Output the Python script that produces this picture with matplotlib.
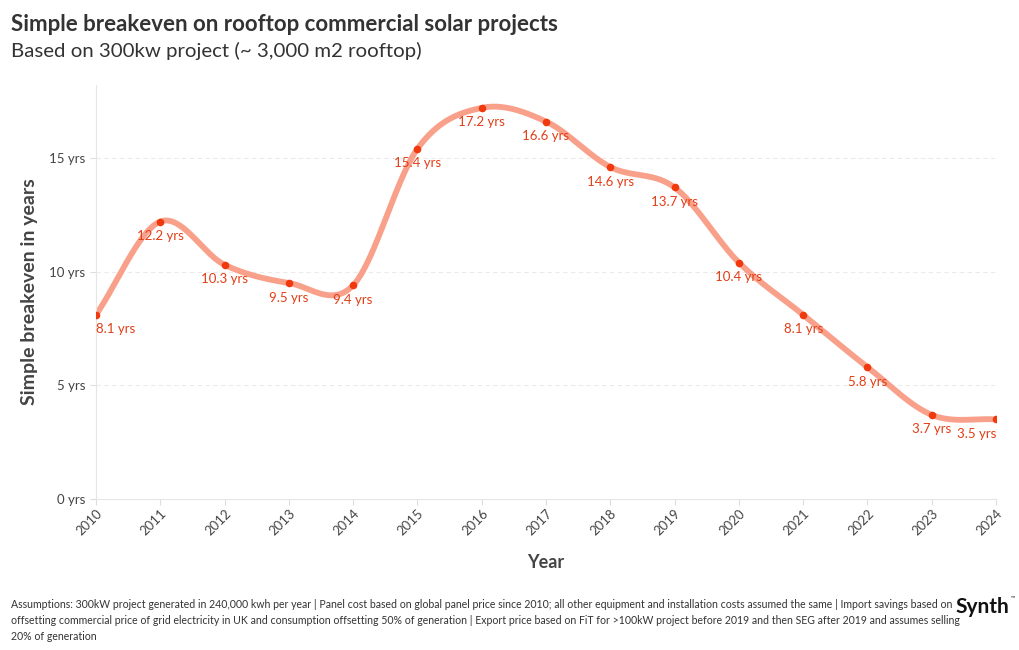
import matplotlib
matplotlib.use("Agg")
import matplotlib.pyplot as plt
import numpy as np

years = [2010, 2011, 2012, 2013, 2014, 2015, 2016, 2017, 2018, 2019, 2020, 2021, 2022, 2023, 2024]
breakeven = [8.1, 12.2, 10.3, 9.5, 9.4, 15.4, 17.2, 16.6, 14.6, 13.7, 10.4, 8.1, 5.8, 3.7, 3.5]
y_ticks = [0, 5, 10, 15]
y_tick_labels = ["0 yrs", "5 yrs", "10 yrs", "15 yrs"]

plt.rcParams['font.family'] = ['Lato', 'DejaVu Sans']

def catmull_rom(x, y, n=40):
    x = np.asarray(x, float); y = np.asarray(y, float)
    px = np.concatenate([[2*x[0]-x[1]], x, [2*x[-1]-x[-2]]])
    py = np.concatenate([[2*y[0]-y[1]], y, [2*y[-1]-y[-2]]])
    xs, ys = [], []
    t = np.linspace(0, 1, n, endpoint=False)
    for i in range(1, len(px)-2):
        p0, p1, p2, p3 = py[i-1], py[i], py[i+1], py[i+2]
        a = 0.5*((2*p1) + (-p0+p2)*t + (2*p0-5*p1+4*p2-p3)*t**2 + (-p0+3*p1-3*p2+p3)*t**3)
        q0, q1, q2, q3 = px[i-1], px[i], px[i+1], px[i+2]
        b = 0.5*((2*q1) + (-q0+q2)*t + (2*q0-5*q1+4*q2-q3)*t**2 + (-q0+3*q1-3*q2+q3)*t**3)
        xs.append(b); ys.append(a)
    xs.append([x[-1]]); ys.append([y[-1]])
    return np.concatenate(xs), np.concatenate(ys)

fig = plt.figure(figsize=(10.2, 6.5), dpi=100)
ax = fig.add_axes([0.0941, 0.2323, 0.8824, 0.6367])

sx, sy = catmull_rom(years, breakeven)
ax.plot(sx, sy, color='#f9a08a', lw=4.2, solid_capstyle='round', zorder=2)
ax.scatter(years, breakeven, s=30, color='#f0390c', zorder=3, linewidths=0)

label_color = '#e23d16'
for i, (x, v) in enumerate(zip(years, breakeven)):
    ha = 'center'
    if i == 0:
        ha = 'left'
    elif i == len(years) - 1:
        ha = 'right'
    ax.annotate(f"{v} yrs", (x, v), xytext=(0, -10.5), textcoords='offset points',
                ha=ha, va='center', fontsize=9.5, color=label_color, zorder=4)

ax.set_xlim(2010, 2024)
ax.set_ylim(0, 18.2)
ax.set_yticks(y_ticks)
ax.set_yticklabels(y_tick_labels)
ax.set_xticks(years)
ax.set_xticklabels([str(y) for y in years], rotation=45, ha='right', rotation_mode='anchor')
ax.tick_params(axis='both', colors='#444444', labelsize=9.5, length=4, width=0.8)
ax.tick_params(axis='x', color='#dddddd', pad=2)
ax.tick_params(axis='y', color='#dddddd')
for t in ax.get_xticklabels():
    t.set_color('#444444')
for t in ax.get_yticklabels():
    t.set_color('#444444')

for s in ['top', 'right']:
    ax.spines[s].set_visible(False)
ax.spines['left'].set_color('#e6e6e6')
ax.spines['bottom'].set_color('#e6e6e6')
ax.spines['left'].set_linewidth(0.8)
ax.spines['bottom'].set_linewidth(0.8)
ax.set_axisbelow(True)
for yv in y_ticks[1:]:
    ax.axhline(yv, color='#ebebeb', lw=0.8, ls=(0, (4, 3)), zorder=0)

ax.set_xlabel("Year", fontsize=13, fontweight='bold', color='#444444', labelpad=12)
ax.set_ylabel("Simple breakeven in years", fontsize=14, fontweight='bold', color='#444444', labelpad=8)

fig.text(0.011, 0.963, "Simple breakeven on rooftop commercial solar projects",
         fontsize=16, fontweight='bold', color='#333333', va='center')
fig.text(0.011, 0.922, "Based on 300kw project (~ 3,000 m2 rooftop)",
         fontsize=14.7, color='#333333', va='center')

foot = ("Assumptions: 300kW project generated in 240,000 kwh per year | Panel cost based on global panel price since 2010; all other equipment and installation costs assumed the same | Import savings based on\n"
        "offsetting commercial price of grid electricity in UK and consumption offsetting 50% of generation | Export price based on FiT for >100kW project before 2019 and then SEG after 2019 and assumes selling\n"
        "20% of generation")
fig.text(0.011, 0.079, foot, fontsize=7.6, color='#333333', va='top', linespacing=1.55)

fig.text(0.937, 0.066, "Synth", fontsize=15, fontweight='bold', color='#111111', va='center')
fig.text(0.991, 0.08, "™", fontsize=4, color='#111111', va='center')

fig.savefig("out.png", dpi=100)
